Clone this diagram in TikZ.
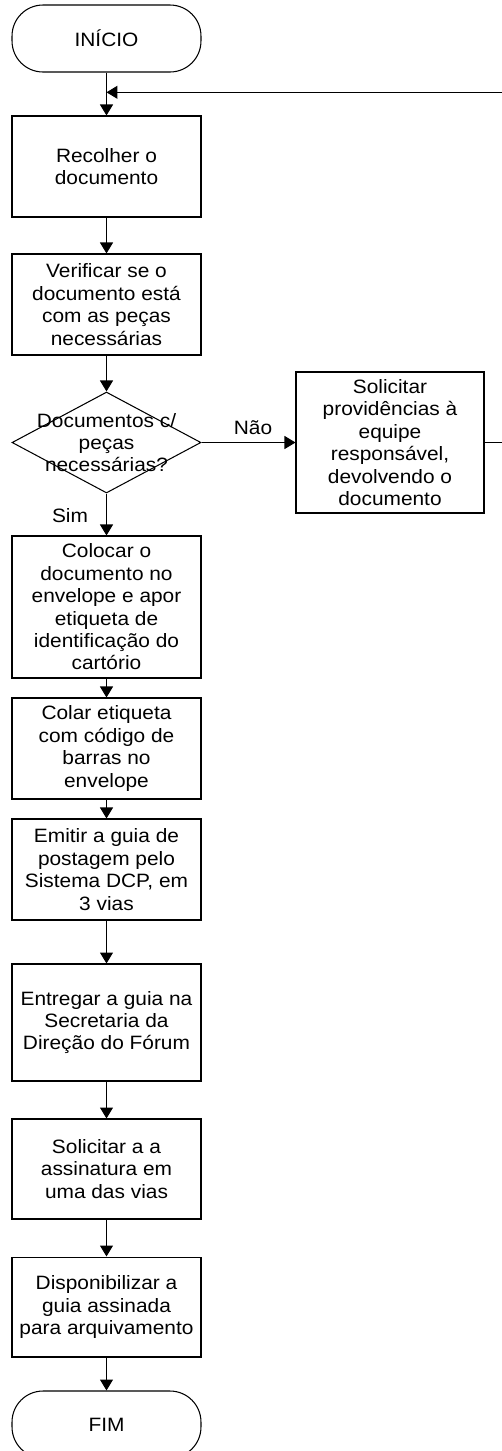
\documentclass[tikz,border=0pt]{standalone}
\usepackage{fontspec}
\setmainfont{Liberation Sans}[FakeStretch=1.08]
\usepackage{tikz}
\usetikzlibrary{shapes, arrows.meta, positioning, calc}

\tikzset{
	caixa/.style={draw, line width=0.6pt, minimum width=3.78cm, minimum height=2.02cm, align=center, inner sep=0pt},
	terminal/.style={draw, line width=0.6pt, rectangle, rounded corners=0.62cm, minimum width=3.78cm, minimum height=1.34cm, inner sep=0pt},
	decisao/.style={draw, line width=0.6pt, diamond, minimum width=3.78cm, minimum height=2.02cm, inner sep=0pt},
	seta/.style={line width=0.6pt, -{Triangle[width=0.26cm, length=0.22cm]}},
	linha/.style={line width=0.6pt}
}

\begin{document}
\begin{tikzpicture}[x=0.02cm, y=-0.02cm, font=\fontsize{11}{12.75}\selectfont]

	\useasboundingbox (0,0) rectangle (502,1451);

	%// coluna principal
	\node [terminal] (inicio) at (106.5, 38.5) {IN\'ICIO};
	\node [caixa] (recolher) at (106.5, 166.5) {Recolher o\\documento};
	\node [caixa] (verificar) at (106.5, 304.5) {Verificar se o\\documento está\\com as peças\\necessárias};
	\node [decisao] (dec) at (106.5, 442.5) {};
	\node [align=center] at (dec) {Documentos c/\\peças\\necessárias?};
	\node [caixa, minimum height=2.84cm] (colocar) at (106.5, 607) {Colocar o\\documento no\\envelope e apor\\etiqueta de\\identificação do\\cartório};
	\node [caixa] (colar) at (106.5, 748.5) {Colar etiqueta\\com código de\\barras no\\envelope};
	\node [caixa] (emitir) at (106.5, 869.5) {Emitir a guia de\\postagem pelo\\Sistema DCP, em\\3 vias};
	\node [caixa, minimum height=2.34cm] (entregar) at (106.5, 1022.5) {Entregar a guia na\\Secretaria da\\Direção do Fórum};
	\node [caixa, minimum height=2cm] (assinatura) at (106.5, 1169) {Solicitar a a\\assinatura em\\uma das vias};
	\node [caixa, minimum height=2cm] (disponib) at (106.5, 1307) {Disponibilizar a\\guia assinada\\para arquivamento};
	\node [terminal] (fim) at (106.5, 1424.5) {FIM};

	%// desvio
	\node [caixa, minimum width=3.76cm, minimum height=2.82cm] (providencias) at (390, 442.5) {Solicitar\\providências à\\equipe\\responsável,\\devolvendo o\\documento};

	\coordinate (retorno) at (106.5, 92.3);
	\coordinate (canto) at (515, 92.3);

	%// conectores
	\draw [linha] (inicio) -- (retorno);
	\draw [seta] (retorno) -- (recolher);
	\draw [seta] (recolher) -- (verificar);
	\draw [seta] (verificar) -- (dec);
	\draw [seta] (dec) -- (colocar);
	\draw [seta] (dec) -- (providencias);
	\draw [seta] (providencias.east) -| (canto) -- (retorno);
	\draw [seta] (colocar) -- (colar);
	\draw [seta] (colar) -- (emitir);
	\draw [seta] (emitir) -- (entregar);
	\draw [seta] (entregar) -- (assinatura);
	\draw [seta] (assinatura) -- (disponib);
	\draw [seta] (disponib) -- (fim);

	\node at (253, 428) {Não};
	\node at (70, 516) {Sim};

\end{tikzpicture}
\end{document}
